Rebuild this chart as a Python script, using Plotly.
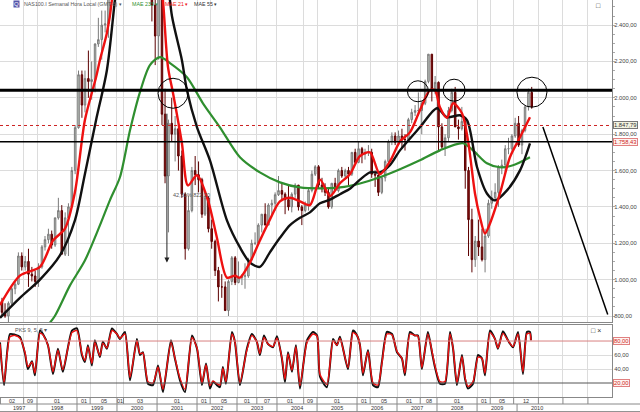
import pandas as pd
import plotly.graph_objects as go

# velas mensuales NAS100 (feb 1997 - may 2010)
open_px = [880, 820, 800, 870, 950, 975, 1130, 1070, 1100, 1030, 1020,
           990, 1070, 1180, 1220, 1250, 1190, 1340, 1380, 1140, 1340, 1400, 1600,
           1836, 2127, 1960, 2106, 2090, 2100, 2296, 2320, 2400, 2407, 2700, 3170,
           3708, 3570, 4150, 4400, 3770, 3330, 3760, 3610, 3960, 3570, 3280, 2510,
           2340, 2590, 1910, 1570, 1860, 1800, 1830, 1680, 1470, 1170, 1380, 1600,
           1577, 1550, 1360, 1450, 1280, 1210, 1050, 960, 960, 830, 990, 1120,
           984, 1010, 1020, 1020, 1110, 1200, 1200, 1300, 1360, 1300, 1410, 1420,
           1467, 1490, 1470, 1440, 1400, 1470, 1520, 1400, 1380, 1410, 1490, 1580,
           1621, 1520, 1500, 1480, 1400, 1530, 1490, 1600, 1570, 1600, 1580, 1700,
           1645, 1720, 1690, 1700, 1700, 1580, 1575, 1480, 1560, 1650, 1760, 1790,
           1756, 1790, 1770, 1770, 1880, 1920, 1930, 1930, 1970, 2090, 2240, 2050,
           2085, 1840, 1730, 1780, 1930, 2030, 1840, 1830, 1870, 1600, 1330, 1110,
           1212, 1180, 1110, 1240, 1420, 1450, 1480, 1620, 1630, 1720, 1720, 1790,
           1860, 1740, 1820, 1950, 2030]
high_px = [900, 870, 880, 960, 990, 1150, 1150, 1130, 1170, 1070, 1050,
           1090, 1190, 1240, 1280, 1270, 1340, 1450, 1410, 1370, 1420, 1620, 1850,
           2150, 2150, 2150, 2260, 2200, 2300, 2440, 2480, 2480, 2720, 3180, 3710,
           3830, 4160, 4816, 4450, 3800, 3800, 3980, 4000, 4100, 3650, 3300, 2750,
           2780, 2660, 2050, 1880, 2000, 1900, 1850, 1710, 1480, 1460, 1620, 1680,
           1650, 1560, 1480, 1460, 1330, 1220, 1070, 1030, 990, 1000, 1130, 1130,
           1100, 1030, 1090, 1120, 1220, 1260, 1310, 1360, 1420, 1420, 1440, 1480,
           1570, 1530, 1480, 1520, 1480, 1530, 1520, 1410, 1430, 1500, 1600, 1630,
           1630, 1560, 1530, 1500, 1530, 1560, 1610, 1620, 1610, 1620, 1700, 1720,
           1760, 1730, 1720, 1740, 1720, 1600, 1580, 1570, 1660, 1770, 1810, 1810,
           1820, 1830, 1800, 1890, 1940, 1960, 2030, 1980, 2100, 2240, 2240, 2120,
           2090, 1860, 1800, 1950, 2050, 2060, 1880, 1950, 1890, 1620, 1390, 1240,
           1330, 1280, 1280, 1440, 1490, 1530, 1630, 1660, 1740, 1780, 1800, 1890,
           1900, 1830, 1960, 2050, 2060]
low_px = [800, 790, 760, 860, 920, 970, 1050, 1050, 960, 990, 960,
          960, 1060, 1160, 1200, 1170, 1180, 1330, 1150, 1130, 1130, 1400, 1580,
          1830, 1890, 1920, 2000, 1990, 2030, 2280, 2210, 2360, 2330, 2680, 3150,
          3340, 3520, 4000, 3010, 3040, 3280, 3500, 3500, 3450, 2900, 2420, 2180,
          2210, 1850, 1530, 1260, 1760, 1650, 1600, 1450, 1110, 1160, 1370, 1520,
          1480, 1340, 1350, 1260, 1170, 1020, 880, 900, 830, 800, 970, 970,
          980, 970, 950, 1010, 1100, 1190, 1190, 1260, 1300, 1300, 1350, 1380,
          1460, 1440, 1360, 1380, 1370, 1450, 1380, 1300, 1370, 1380, 1480, 1570,
          1500, 1480, 1460, 1390, 1390, 1490, 1480, 1560, 1550, 1520, 1570, 1640,
          1640, 1640, 1660, 1680, 1560, 1510, 1460, 1470, 1540, 1640, 1740, 1740,
          1740, 1720, 1710, 1770, 1860, 1900, 1900, 1800, 1960, 2080, 1980, 2020,
          1710, 1720, 1680, 1760, 1920, 1840, 1770, 1820, 1500, 1130, 1040, 1070,
          1130, 1100, 1040, 1230, 1390, 1430, 1400, 1580, 1590, 1690, 1710, 1780,
          1730, 1690, 1810, 1930, 1940]
close_px = [820, 800, 870, 950, 975, 1130, 1070, 1100, 1030, 1020, 990,
            1070, 1180, 1220, 1250, 1190, 1340, 1380, 1140, 1340, 1400, 1600, 1836,
            2127, 1960, 2106, 2090, 2100, 2296, 2320, 2400, 2407, 2700, 3170, 3708,
            3570, 4150, 4400, 3770, 3330, 3760, 3610, 3960, 3570, 3280, 2510, 2340,
            2590, 1910, 1570, 1860, 1800, 1830, 1680, 1470, 1170, 1380, 1600, 1577,
            1550, 1360, 1450, 1280, 1210, 1050, 960, 960, 830, 990, 1120, 984,
            1010, 1020, 1020, 1110, 1200, 1200, 1300, 1360, 1300, 1410, 1420, 1467,
            1490, 1470, 1440, 1400, 1470, 1520, 1400, 1380, 1410, 1490, 1580, 1621,
            1520, 1500, 1480, 1400, 1530, 1490, 1600, 1570, 1600, 1580, 1700, 1645,
            1720, 1690, 1700, 1700, 1580, 1575, 1480, 1560, 1650, 1760, 1790, 1756,
            1790, 1770, 1770, 1880, 1920, 1930, 1930, 1970, 2090, 2240, 2050, 2085,
            1840, 1730, 1780, 1930, 2030, 1840, 1830, 1870, 1600, 1330, 1110, 1212,
            1180, 1110, 1240, 1420, 1450, 1480, 1620, 1630, 1720, 1720, 1790, 1860,
            1740, 1820, 1950, 2030, 1950]

# medias moviles exponenciales
mae21_dates = ["1997-01-28", "1997-07-29", "1998-01-28", "1998-05-27", "1998-09-13", "1998-12-13",
               "1999-03-14", "1999-06-24", "1999-07-29", "1999-10-01", "1999-11-16", "2000-03-14",
               "2000-07-29", "2000-12-13", "2001-02-24", "2001-04-11", "2001-05-27", "2001-08-16",
               "2001-10-10", "2002-01-01", "2002-04-11", "2002-07-01", "2002-10-01", "2002-12-13",
               "2003-01-28", "2003-04-29", "2003-07-29", "2003-10-28", "2004-01-28", "2004-04-29",
               "2004-07-29", "2004-10-28", "2005-01-28", "2005-04-29", "2005-07-29", "2005-10-28",
               "2006-01-28", "2006-04-29", "2006-07-29", "2006-10-28", "2007-01-28", "2007-04-29",
               "2007-07-29", "2007-10-28", "2007-12-13", "2008-01-28", "2008-04-01", "2008-05-27",
               "2008-08-16", "2008-10-10", "2008-12-13", "2009-01-28", "2009-03-14", "2009-04-29",
               "2009-07-29", "2009-10-28", "2010-01-28", "2010-04-29"]
mae21 = [860, 1022, 1070, 1215, 1280, 1480,
         1877, 2113, 2207, 2356, 2538, 3800,
         3600, 3000, 2538, 2169, 2025, 1750,
         1518, 1574, 1436, 1232, 1011, 1022,
         1011, 1094, 1215, 1330, 1430, 1450,
         1430, 1410, 1550, 1460, 1530, 1580,
         1680, 1700, 1580, 1650, 1760, 1810,
         1932, 2042, 2042, 1948, 1890, 1970,
         1915, 1766, 1474, 1342, 1254, 1309,
         1474, 1673, 1783, 1893]

mae55_dates = ["1997-01-28", "1997-07-29", "1998-01-28", "1998-07-29", "1998-12-13", "1999-03-14",
               "1999-06-24", "1999-10-01", "1999-12-13", "2000-04-29", "2000-10-28", "2001-04-01",
               "2001-05-17", "2001-08-16", "2001-10-01", "2002-01-01", "2002-04-29", "2002-10-01",
               "2003-01-28", "2003-04-29", "2003-07-29", "2003-10-28", "2004-01-28", "2004-04-29",
               "2004-07-29", "2004-10-28", "2005-01-28", "2005-04-29", "2005-07-29", "2005-10-28",
               "2006-01-28", "2006-04-29", "2006-07-29", "2006-10-28", "2007-01-28", "2007-07-29",
               "2008-01-01", "2008-04-01", "2008-07-29", "2008-10-01", "2009-01-01", "2009-04-01",
               "2009-06-13", "2009-10-01", "2010-01-28", "2010-04-29"]
mae55 = [790, 900, 1000, 1133, 1326, 1580,
         1877, 2152, 2538, 3300, 3500, 2700,
         2450, 2207, 2042, 1838, 1656, 1326,
         1177, 1094, 1070, 1150, 1230, 1300,
         1340, 1370, 1420, 1440, 1470, 1500,
         1550, 1590, 1590, 1630, 1711, 1838,
         1943, 1893, 1904, 1877, 1618, 1474,
         1436, 1491, 1601, 1750]

mae233_dates = ["1998-03-14", "1998-06-13", "1998-10-28", "1999-03-14", "1999-07-29", "1999-10-28",
                "2000-01-28", "2000-04-29", "2000-07-29", "2000-10-28", "2001-01-28", "2001-04-29",
                "2001-10-01", "2002-02-24", "2002-07-29", "2003-01-28", "2003-07-29", "2004-01-28",
                "2004-07-29", "2005-01-28", "2005-07-29", "2006-01-28", "2006-07-29", "2007-01-28",
                "2007-07-29", "2008-01-28", "2008-08-25", "2008-11-25", "2009-04-01", "2009-07-29",
                "2009-11-25", "2010-04-29"]
mae233 = [730, 800, 967, 1105, 1298, 1436,
          1563, 1821, 2031, 2180, 2224, 2191,
          2113, 1970, 1838, 1673, 1590, 1535,
          1507, 1502, 1507, 1529, 1563, 1607,
          1656, 1711, 1750, 1711, 1640, 1618,
          1629, 1673]

# estocastico (puntos de giro)
stoch_dates = ["1997-01-28", "1997-03-06", "1997-04-29", "1997-06-13", "1997-07-29", "1997-09-13",
               "1997-10-10", "1997-11-16", "1997-12-13", "1998-01-28", "1998-02-24", "1998-04-11",
               "1998-05-27", "1998-07-11", "1998-08-25", "1998-11-16", "1999-01-01", "1999-02-15",
               "1999-03-14", "1999-04-11", "1999-05-17", "1999-06-13", "1999-07-29", "1999-08-25",
               "1999-10-01", "1999-11-16", "2000-01-01", "2000-01-28", "2000-03-14", "2000-04-29",
               "2000-07-01", "2000-07-29", "2000-08-25", "2000-10-10", "2000-11-25", "2001-01-10",
               "2001-02-24", "2001-05-08", "2001-06-13", "2001-07-29", "2001-09-13", "2001-11-16",
               "2002-01-01", "2002-02-15", "2002-03-24", "2002-04-29", "2002-05-27", "2002-07-01",
               "2002-07-29", "2002-08-25", "2002-09-22", "2002-11-16", "2002-12-13", "2003-01-28",
               "2003-04-01", "2003-05-17", "2003-07-01", "2003-07-29", "2003-09-04", "2003-10-10",
               "2003-11-25", "2004-01-01", "2004-02-15", "2004-03-14", "2004-04-11", "2004-05-17",
               "2004-06-22", "2004-07-29", "2004-10-01", "2004-11-25", "2005-01-01", "2005-01-28",
               "2005-04-01", "2005-05-27", "2005-07-01", "2005-07-29", "2005-10-10", "2005-11-25",
               "2006-01-01", "2006-01-28", "2006-02-24", "2006-04-11", "2006-05-27", "2006-07-11",
               "2006-08-16", "2006-10-01", "2006-11-16", "2007-01-01", "2007-02-15", "2007-03-14",
               "2007-04-29", "2007-06-13", "2007-07-11", "2007-08-16", "2007-10-10", "2007-11-16",
               "2007-12-13", "2008-01-28", "2008-03-14", "2008-04-29", "2008-05-27", "2008-07-01",
               "2008-08-16", "2008-09-13", "2008-10-10", "2008-11-25", "2009-01-10", "2009-02-15",
               "2009-03-14", "2009-04-29", "2009-06-13", "2009-07-11", "2009-08-25", "2009-10-10",
               "2009-11-25", "2010-01-10", "2010-02-24", "2010-04-01", "2010-04-29", "2010-05-08"]
stoch_k = [78, 17, 90, 89, 86, 62, 40, 51, 31, 95,
           90, 74, 33, 69, 36, 95, 98, 60, 50, 74,
           45, 81, 57, 79, 69, 98, 90, 83, 93, 24,
           83, 60, 64, 19, 17, 45, 7, 81, 55, 24,
           7, 88, 69, 17, 48, 12, 22, 17, 14, 43,
           19, 93, 79, 17, 69, 90, 79, 60, 88, 76,
           71, 87, 55, 21, 64, 36, 74, 12, 81, 93,
           88, 29, 14, 83, 74, 86, 40, 95, 88, 74,
           31, 67, 17, 14, 50, 93, 90, 64, 55, 31,
           93, 88, 88, 40, 93, 64, 43, 19, 19, 93,
           69, 17, 60, 26, 12, 19, 60, 55, 31, 95,
           83, 69, 94, 81, 71, 93, 33, 93, 93, 81]
stoch_d = [76, 21, 86, 88, 84, 64, 43, 50, 34, 91,
           89, 74, 36, 67, 39, 92, 95, 62, 52, 72,
           48, 78, 59, 77, 70, 95, 90, 84, 90, 28,
           80, 62, 63, 22, 20, 43, 11, 78, 56, 27,
           11, 85, 70, 20, 46, 16, 23, 19, 17, 41,
           22, 90, 79, 20, 67, 88, 79, 62, 85, 76,
           72, 84, 56, 25, 62, 38, 72, 16, 78, 90,
           87, 32, 18, 80, 74, 84, 42, 92, 88, 74,
           34, 65, 20, 17, 48, 90, 89, 65, 55, 34,
           90, 88, 87, 42, 90, 66, 45, 22, 22, 90,
           70, 20, 58, 28, 15, 22, 57, 55, 34, 92,
           83, 70, 91, 81, 72, 90, 36, 90, 91, 81]

# eje de fechas
month_ticks = ["1997-02-01", "1997-09-01", "1998-01-01", "1999-01-01", "1999-05-01", "2000-01-01",
               "2000-03-01", "2001-01-01", "2002-01-01", "2002-05-01", "2003-01-01", "2003-07-01",
               "2004-01-01", "2004-09-01", "2005-01-01", "2006-01-01", "2006-05-01", "2007-01-01",
               "2007-08-01", "2008-01-01", "2009-01-01", "2009-05-01", "2009-12-01"]
month_labels = ["02", "09", "01", "01", "05", "01", "03", "01", "01", "05", "01", "07",
                "01", "09", "01", "01", "05", "01", "08", "01", "01", "05", "12"]
extra_ticks = ["2010-07-15", "2011-02-24", "2011-10-10"]
years = list(range(1997, 2011))

# niveles dibujados
resistencia = 2042
soporte = 1758.43
ultimo = 1847.79
circulos = [("2001-05-27", 2025, 15), ("2007-07-11", 2036, 10.5),
            ("2008-06-05", 2042, 11), ("2010-05-17", 2031, 15)]

x_ini = pd.Timestamp("1997-01-28")
x_fin = pd.Timestamp("2012-05-17")
FONT = "Liberation Sans"

months = pd.date_range("1997-02-01", periods=len(close_px), freq="MS") + pd.Timedelta(days=14)

fig = go.Figure()

fig.add_trace(go.Candlestick(
    x=months, open=open_px, high=high_px, low=low_px, close=close_px,
    increasing=dict(line=dict(color="#7a7a7a", width=1), fillcolor="#c4ccc4"),
    decreasing=dict(line=dict(color="#5c0000", width=1), fillcolor="#8b1010"),
    whiskerwidth=0, hoverinfo="skip"))

fig.add_trace(go.Scatter(x=mae233_dates, y=mae233, mode="lines",
                         line=dict(color="#2f8f2f", width=2.2, shape="spline", smoothing=0.8)))
fig.add_trace(go.Scatter(x=mae55_dates, y=mae55, mode="lines",
                         line=dict(color="#111111", width=2.4, shape="spline", smoothing=0.8)))
fig.add_trace(go.Scatter(x=mae21_dates, y=mae21, mode="lines",
                         line=dict(color="#ee1111", width=2.4, shape="spline", smoothing=0.8)))

fig.add_trace(go.Scatter(x=stoch_dates, y=stoch_k, yaxis="y2", mode="lines",
                         line=dict(color="#111111", width=2, shape="spline", smoothing=0.6)))
fig.add_trace(go.Scatter(x=stoch_dates, y=stoch_d, yaxis="y2", mode="lines",
                         line=dict(color="#ee1111", width=1.4, shape="spline", smoothing=0.6)))

# eje inferior: celdas de meses y años
h_px = 397.0
row1 = -7 / h_px
row2 = -15 / h_px
shapes = []
annotations = []
for t in month_ticks + extra_ticks:
    shapes.append(dict(type="line", xref="x", yref="paper", x0=t, x1=t, y0=row1, y1=0,
                       line=dict(color="#888888", width=1)))
cells = [pd.Timestamp(t) for t in month_ticks] + [pd.Timestamp(extra_ticks[0])]
for i, lab in enumerate(month_labels):
    mid = cells[i] + (cells[i + 1] - cells[i]) / 2
    annotations.append(dict(x=mid, y=row1 / 2, xref="x", yref="paper", text=lab, showarrow=False,
                            font=dict(size=5.5, color="#333333", family=FONT), yanchor="middle"))
for yr in years:
    a = max(pd.Timestamp(f"{yr}-01-01"), x_ini)
    b = min(pd.Timestamp(f"{yr + 1}-01-01"), x_fin)
    if yr > 1997:
        shapes.append(dict(type="line", xref="x", yref="paper", x0=a, x1=a, y0=row2, y1=row1,
                           line=dict(color="#888888", width=1)))
    annotations.append(dict(x=a + (b - a) / 2, y=(row1 + row2) / 2, xref="x", yref="paper",
                            text=str(yr), showarrow=False, yanchor="middle",
                            font=dict(size=5.5, color="#333333", family=FONT)))
for yy in [row1, row2 + 0.001]:
    shapes.append(dict(type="line", xref="paper", yref="paper", x0=0, x1=640 / 612, y0=yy, y1=yy,
                       line=dict(color="#888888", width=1)))

# lineas horizontales
shapes.append(dict(type="line", xref="paper", yref="y", x0=0, x1=1, y0=resistencia, y1=resistencia,
                   line=dict(color="#000000", width=3)))
shapes.append(dict(type="line", xref="paper", yref="y", x0=0, x1=1, y0=soporte, y1=soporte,
                   line=dict(color="#000000", width=1.5)))
shapes.append(dict(type="line", xref="paper", yref="y", x0=0, x1=1, y0=ultimo, y1=ultimo,
                   line=dict(color="#cc2222", width=1, dash="dot")))
shapes.append(dict(type="line", xref="paper", yref="y2", x0=0, x1=1, y0=80, y1=80,
                   line=dict(color="#d88080", width=1)))
shapes.append(dict(type="line", xref="paper", yref="y2", x0=0, x1=1, y0=20, y1=20,
                   line=dict(color="#555555", width=1)))

# circulos y linea de proyeccion
for fecha, nivel, r in circulos:
    shapes.append(dict(type="circle", xref="x", yref="y", xsizemode="pixel", ysizemode="pixel",
                       xanchor=fecha, yanchor=nivel, x0=-r, x1=r, y0=-r, y1=r,
                       line=dict(color="#000000", width=1)))
shapes.append(dict(type="line", xref="x", yref="y", x0="2010-08-25", y0=1840, x1="2012-04-08", y1=808,
                   line=dict(color="#000000", width=1.5)))

# flecha de caida
annotations.append(dict(x="2001-04-01", y=1094, ax="2001-04-01", ay=1921, xref="x", yref="y",
                        axref="x", ayref="y", text="", showarrow=True, arrowhead=2, arrowsize=1,
                        arrowwidth=1, arrowcolor="#222222"))
annotations.append(dict(x="2001-05-10", y=1463, xref="x", yref="y", text="42,31% 822,20",
                        showarrow=False, xanchor="left", font=dict(size=5.5, color="#555555", family=FONT)))

# cabeceras
annotations.append(dict(x=13 / 612, y=1, xref="paper", yref="paper", text="Q", showarrow=False,
                        xanchor="left", yanchor="top", bgcolor="#5555aa", borderpad=0,
                        font=dict(size=6, color="#ffffff", family=FONT)))
for txt, px, col in [("NAS100.I Semanal Hora Local (GMT-3) ▾", 22, "#555555"),
                     ("MAE 233 ▾", 130, "#2f8f2f"), ("MAE 21 ▾", 163, "#ee1111"),
                     ("MAE 55 ▾", 192, "#333333")]:
    annotations.append(dict(x=px / 612, y=1.003, xref="paper", yref="paper", text=txt, showarrow=False,
                            xanchor="left", yanchor="top", font=dict(size=5.3, color=col, family=FONT)))
annotations.append(dict(x=13 / 612, y=0.181, xref="paper", yref="paper", text="PKS 9, 5, 5 ▾",
                        showarrow=False, xanchor="left", yanchor="top",
                        font=dict(size=5.5, color="#555555", family=FONT)))
annotations.append(dict(x=603 / 612, y=1, xref="paper", yref="paper", text="□", showarrow=False,
                        yanchor="top", font=dict(size=7, color="#333333", family=FONT)))
annotations.append(dict(x=603 / 612, y=0.181, xref="paper", yref="paper", text="□ ×", showarrow=False,
                        yanchor="top", font=dict(size=7, color="#333333", family=FONT)))

# etiquetas de precio en el eje
def etiqueta(valor, texto, eje, color, fondo, borde):
    return dict(x=1.002, y=valor, xref="paper", yref=eje, text=texto, showarrow=False,
                xanchor="left", yanchor="middle", bgcolor=fondo, bordercolor=borde, borderwidth=1,
                borderpad=0, font=dict(size=5.8, color=color, family=FONT))

annotations.append(etiqueta(ultimo, "1.847,79", "y", "#333333", "#f2f2e0", "#777777"))
annotations.append(etiqueta(soporte, "1.758,43", "y", "#cc2222", "#fff4f0", "#e08080"))
annotations.append(etiqueta(80, "80,00", "y2", "#cc2222", "#fff4f0", "#e08080"))
annotations.append(etiqueta(20, "20,00", "y2", "#cc2222", "#fff4f0", "#e08080"))

main_ticks = list(range(800, 2401, 200))
main_text = [f"{v // 1000}.{v % 1000:03d},00" if v >= 1000 else f"{v},00" for v in main_ticks]

fig.update_layout(
    width=640, height=412,
    margin=dict(l=0, r=28, t=0, b=15),
    paper_bgcolor="#ffffff", plot_bgcolor="#ffffff",
    showlegend=False,
    font=dict(family=FONT, size=6, color="#333333"),
    xaxis=dict(type="date", range=[x_ini, x_fin], anchor="y2", rangeslider=dict(visible=False),
               tickvals=month_ticks + extra_ticks, showticklabels=False, ticks="",
               showgrid=True, gridcolor="#dcdcdc", gridwidth=1, zeroline=False,
               showline=True, linecolor="#888888", mirror="all"),
    yaxis=dict(domain=[75 / h_px, 1], range=[767, 2538], side="right", anchor="x",
               tickvals=main_ticks, ticktext=main_text, ticks="",
               tickfont=dict(size=5.8, color="#444444"),
               minor=dict(dtick=50, ticklen=2, tickcolor="#aaaaaa", ticks="outside", showgrid=False),
               showgrid=True, gridcolor="#dcdcdc", zeroline=False,
               showline=True, linecolor="#888888"),
    yaxis2=dict(domain=[0, 72 / h_px], range=[0, 102.9], side="right", anchor="x",
                tickvals=[40, 60], ticktext=["40,00", "60,00"], ticks="",
                tickfont=dict(size=5.8, color="#444444"),
                showgrid=True, gridcolor="#dcdcdc", zeroline=False,
                showline=True, linecolor="#888888"),
    shapes=shapes,
    annotations=annotations,
)

fig.write_html("out.html", config={"displayModeBar": False},
               post_script="document.body.style.margin='0';")
